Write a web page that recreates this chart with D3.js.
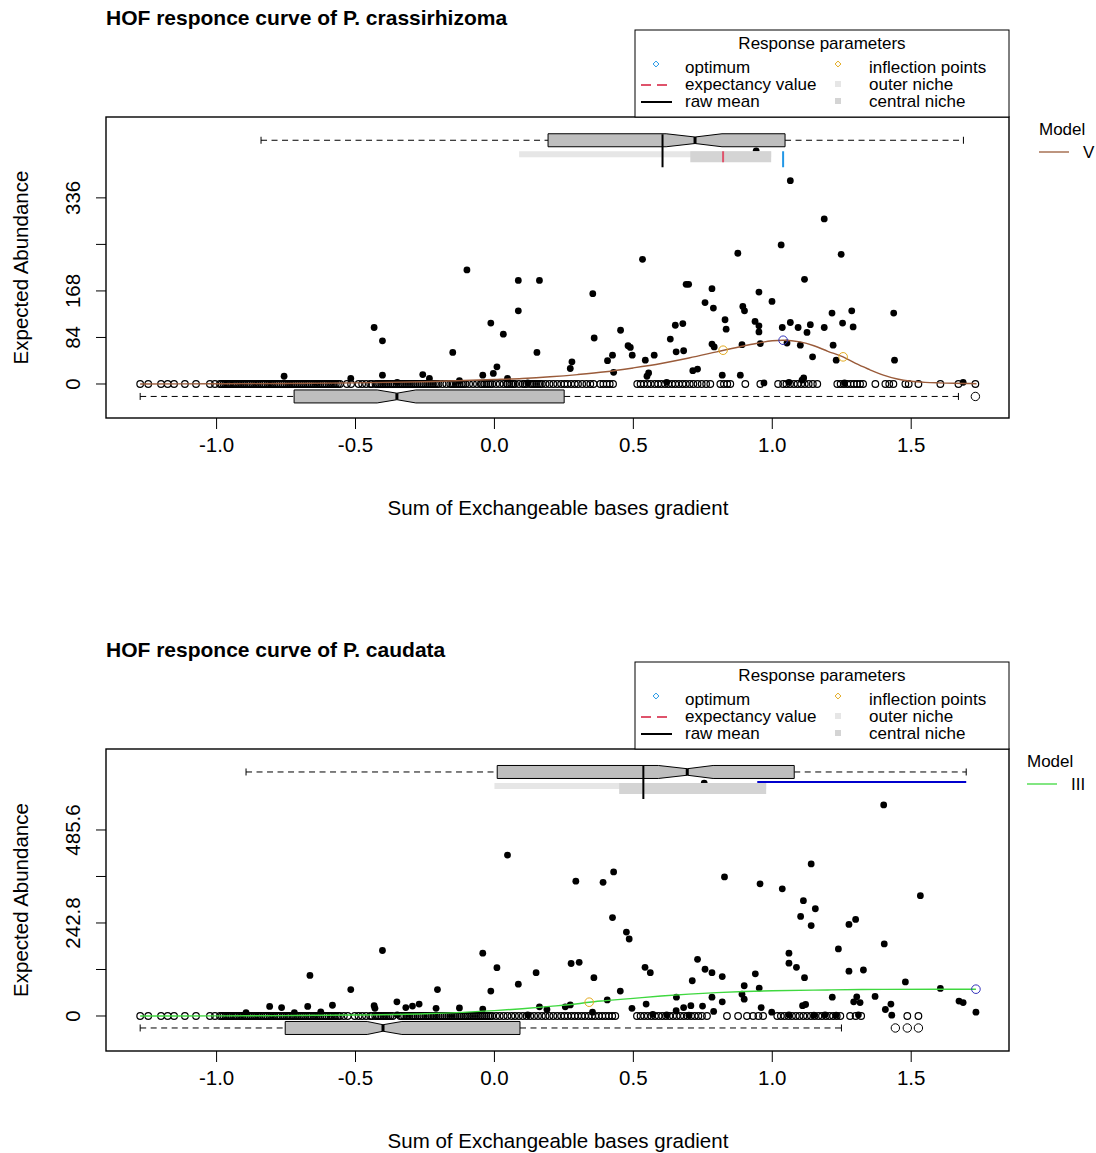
<!DOCTYPE html>
<html>
<head>
<meta charset="utf-8">
<script src="https://cdn.jsdelivr.net/npm/d3@7"></script>
<style>
  body { margin: 0; background: #fff; }
  text { font-family: "Liberation Sans", Arial, sans-serif; fill: #000; }
</style>
</head>
<body>
<svg id="chart" width="1096" height="1153"></svg>
<script>
// ---- shared axis ----
const xTicks = [-1.0, -0.5, 0.0, 0.5, 1.0, 1.5];
const xTickLabels = ['-1.0', '-0.5', '0.0', '0.5', '1.0', '1.5'];
const xTitle = 'Sum of Exchangeable bases gradient';
const yTitle = 'Expected Abundance';

// ---- P. crassirhizoma (model V) ----
const topTitle = 'HOF responce curve of P. crassirhizoma';
const topModel = 'V';
const topYTicks = [0, 84, 168, 252, 336];
const topYTickLabels = ['0', '84', '168', '', '336'];
const topPresence = [
  [-0.099,206],[0.086,187],[0.162,187],[0.086,132],[-0.433,102],[-0.403,78],[-0.013,110],[0.032,90],[-0.150,57],[0.153,57],
  [0.279,40],[0.273,28],[0.009,31],[-0.004,19],[-0.042,16],[-0.757,14],[-0.403,16],[-0.258,17],[-0.234,10],[-0.517,10],
  [-0.126,6],[0.047,10],[0.533,225],[0.876,236],[1.248,234],[0.354,163],[0.359,83],[0.690,180],[0.699,180],[0.783,172],
  [0.758,147],[0.788,137],[1.116,189],[0.952,166],[0.999,149],[0.894,140],[0.900,132],[0.830,116],[0.834,99],[0.651,106],
  [0.678,109],[0.633,81],[0.454,97],[0.425,52],[0.407,42],[0.481,69],[0.489,66],[0.496,52],[0.543,43],[0.575,52],
  [0.429,21],[0.654,58],[0.681,60],[0.714,24],[0.731,27],[0.783,72],[0.791,67],[0.891,71],[0.957,73],[0.938,113],
  [0.952,105],[0.952,94],[1.036,102],[1.065,111],[1.093,102],[1.137,107],[1.125,93],[1.187,102],[1.215,128],[1.286,132],
  [1.253,110],[1.291,103],[1.437,128],[1.440,43],[1.219,70],[1.230,43],[1.145,49],[1.053,74],[1.101,70],[0.820,16],
  [0.885,16],[0.555,20],[0.549,14],[1.113,11],[1.107,7],[1.687,3],[0.942,421],[1.065,367],[1.187,298],[1.032,251],
  [-0.35,3],[0.12,2],[0.62,3],[0.97,2],[1.06,3],[1.26,2]
];
const topAbsence = [
  -1.275,-1.246,-1.200,-1.176,-1.153,-1.114,-1.074,-1.024,-1.006,-0.988,-0.982,-0.975,-0.969,-0.962,-0.957,-0.951,
  -0.944,-0.938,-0.932,-0.926,-0.919,-0.912,-0.905,-0.899,-0.892,-0.884,-0.878,-0.871,-0.865,-0.858,-0.852,-0.846,
  -0.838,-0.831,-0.824,-0.817,-0.811,-0.804,-0.798,-0.792,-0.785,-0.778,-0.770,-0.763,-0.756,-0.749,-0.742,-0.736,
  -0.729,-0.722,-0.715,-0.708,-0.701,-0.694,-0.688,-0.681,-0.674,-0.667,-0.659,-0.652,-0.645,-0.639,-0.632,-0.626,
  -0.618,-0.611,-0.604,-0.597,-0.591,-0.585,-0.578,-0.571,-0.563,-0.556,-0.531,-0.516,-0.489,-0.476,-0.462,-0.447,
  -0.441,-0.428,-0.421,-0.414,-0.408,-0.401,-0.394,-0.387,-0.381,-0.373,-0.366,-0.359,-0.352,-0.345,-0.339,-0.332,
  -0.325,-0.318,-0.311,-0.304,-0.297,-0.290,-0.284,-0.277,-0.269,-0.262,-0.256,-0.249,-0.242,-0.235,-0.228,-0.221,
  -0.214,-0.207,-0.201,-0.187,-0.173,-0.159,-0.152,-0.146,-0.139,-0.132,-0.125,-0.118,-0.111,-0.104,-0.091,-0.077,
  -0.063,-0.049,-0.045,-0.036,-0.029,-0.022,-0.015,-0.008,0.006,0.019,0.033,0.045,0.047,0.054,0.061,0.068,0.074,
  0.088,0.102,0.109,0.116,0.129,0.136,0.143,0.150,0.157,0.164,0.171,0.184,0.198,0.212,0.226,0.240,0.252,0.263,
  0.276,0.289,0.301,0.316,0.331,0.345,0.357,0.381,0.392,0.404,0.415,0.427,0.514,0.526,0.538,0.551,0.563,0.577,0.589,
  0.601,0.614,0.626,0.639,0.651,0.664,0.677,0.689,0.703,0.716,0.731,0.746,0.762,0.777,0.813,0.826,0.838,0.849,0.903,
  0.957,1.021,1.039,1.051,1.064,1.078,1.091,1.104,1.117,1.131,1.146,1.162,1.234,1.246,1.258,1.270,1.282,1.294,1.305,
  1.316,1.327,1.371,1.407,1.421,1.436,1.479,1.491,1.526,1.605,1.670,1.731
];
const topCurve = [
  [-1.275,0],[-1.0,0.5],[-0.75,1],[-0.5,2],[-0.25,4],[0.0,8],[0.1,10],[0.2,13],[0.3,17],[0.4,22],[0.5,29],
  [0.6,37],[0.7,47],[0.8,58],[0.9,69],[0.95,74],[1.0,78],[1.04,79],[1.1,76],[1.15,69],[1.2,59],[1.255,49],
  [1.3,37],[1.35,26],[1.4,16],[1.45,9],[1.5,5],[1.55,3],[1.6,2],[1.7,1],[1.735,0.5]
];
// whisker low, Q1, notch low, median, notch high, Q3, whisker high
const topPresBox = [-0.840, 0.193, 0.618, 0.722, 0.819, 1.046, 1.688];
const topAbsBox = [-1.275, -0.721, -0.422, -0.351, -0.283, 0.251, 1.670];
const topAbsOutliers = [1.731];
const topOuterNiche = [0.089, 0.996];
const topCentralNiche = [0.705, 0.996];
const topRawMean = 0.605;
const topExpectancy = 0.823;
const topOptimum = [1.039, 79];
const topInflections = [[0.823, 61], [1.255, 49]];

// ---- P. caudata (model III) ----
const botTitle = 'HOF responce curve of P. caudata';
const botModel = 'III';
const botYTicks = [0, 121.4, 242.8, 364.2, 485.6];
const botYTickLabels = ['0', '', '242.8', '', '485.6'];
const botPresence = [
  [0.047,420],[0.293,352],[-0.403,171],[-0.664,106],[-0.517,69],[-0.042,164],[0.009,126],[-0.013,65],[0.086,83],[0.150,113],
  [0.276,137],[0.305,140],[-0.205,69],[-0.351,37],[-0.319,22],[-0.295,26],[-0.271,31],[-0.433,27],[-0.430,20],[-0.583,28],
  [-0.672,25],[-0.766,22],[-0.809,25],[-0.625,11],[-0.720,9],[-0.894,9],[-0.126,21],[-0.210,20],[-0.042,18],[0.162,24],
  [0.189,17],[0.255,24],[0.273,29],[1.140,397],[1.533,314],[0.828,363],[0.956,345],[1.036,332],[1.112,301],[1.155,280],
  [1.102,260],[1.140,236],[1.276,239],[1.300,252],[1.238,175],[1.403,188],[0.391,349],[0.429,376],[0.425,257],[0.475,219],
  [0.485,201],[0.358,100],[0.453,65],[0.542,127],[0.561,113],[0.655,49],[0.731,148],[0.758,122],[0.783,113],[0.712,92],
  [0.820,103],[0.783,49],[0.820,37],[0.939,110],[0.899,79],[0.891,57],[0.899,44],[0.953,73],[1.060,164],[1.060,138],
  [1.087,127],[1.116,100],[1.276,117],[1.328,120],[1.216,49],[1.304,50],[1.293,37],[1.316,35],[1.370,51],[1.479,89],
  [1.605,72],[1.672,39],[1.687,35],[1.733,10],[1.427,31],[1.407,17],[0.546,31],[0.495,20],[0.654,14],[0.681,22],
  [0.707,27],[0.749,26],[0.789,12],[0.960,22],[0.998,10],[1.109,27],[1.120,30],[0.406,42],[0.353,10],[0.755,608],
  [1.401,551],[1.06,3],[1.15,2],[1.19,3],[1.23,2],[1.31,3],[1.43,2],[0.62,3],[0.70,2],[0.57,4],[-0.35,3],[0.12,3]
];
const botAbsence = [
  -1.275,-1.246,-1.200,-1.176,-1.153,-1.114,-1.074,-1.024,-1.006,-0.988,-0.981,-0.975,-0.968,-0.962,-0.956,-0.951,
  -0.945,-0.938,-0.931,-0.926,-0.918,-0.912,-0.906,-0.899,-0.891,-0.884,-0.877,-0.871,-0.864,-0.858,-0.851,-0.846,
  -0.839,-0.831,-0.823,-0.817,-0.810,-0.804,-0.797,-0.792,-0.784,-0.778,-0.771,-0.763,-0.757,-0.749,-0.743,-0.736,
  -0.728,-0.722,-0.714,-0.708,-0.700,-0.694,-0.687,-0.681,-0.673,-0.667,-0.660,-0.652,-0.646,-0.639,-0.633,-0.626,
  -0.619,-0.611,-0.605,-0.597,-0.590,-0.585,-0.577,-0.571,-0.563,-0.556,-0.542,-0.528,-0.503,-0.489,-0.476,-0.462,
  -0.447,-0.440,-0.429,-0.421,-0.415,-0.408,-0.400,-0.394,-0.388,-0.381,-0.374,-0.366,-0.339,-0.333,-0.325,-0.317,
  -0.311,-0.305,-0.297,-0.291,-0.284,-0.276,-0.269,-0.263,-0.256,-0.248,-0.242,-0.236,-0.228,-0.220,-0.214,-0.208,
  -0.201,-0.194,-0.187,-0.180,-0.173,-0.166,-0.159,-0.153,-0.146,-0.139,-0.132,-0.124,-0.118,-0.110,-0.104,-0.097,
  -0.091,-0.084,-0.077,-0.070,-0.063,-0.056,-0.049,-0.043,-0.036,-0.029,-0.022,-0.015,-0.008,0.006,0.019,0.033,
  0.047,0.061,0.074,0.088,0.102,0.116,0.129,0.143,0.157,0.171,0.184,0.198,0.212,0.226,0.240,0.252,0.264,
  0.277,0.289,0.301,0.314,0.326,0.339,0.351,0.363,0.376,0.388,0.400,0.412,0.424,0.435,0.513,0.526,0.539,0.552,0.565,
  0.578,0.591,0.604,0.617,0.630,0.643,0.656,0.669,0.682,0.695,0.708,0.721,0.734,0.747,0.765,0.837,0.877,0.909,0.931,
  0.950,0.967,1.018,1.031,1.044,1.058,1.071,1.085,1.098,1.112,1.125,1.139,1.152,1.166,1.179,1.193,1.206,1.219,1.232,
  1.245,1.280,1.300,1.320,1.486,1.526
];
const botCurve = [
  [-1.275,0],[-1.0,0.3],[-0.75,1],[-0.5,2.5],[-0.25,6],[0.0,14],[0.1,19],[0.2,25],[0.3,32],[0.341,36],[0.4,40],
  [0.5,46],[0.6,52],[0.7,57],[0.8,61],[0.9,64],[1.0,66],[1.2,68],[1.4,69.5],[1.6,70],[1.733,70]
];
const botPresBox = [-0.894, 0.010, 0.590, 0.694, 0.787, 1.079, 1.698];
const botAbsBox = [-1.275, -0.753, -0.458, -0.401, -0.333, 0.092, 1.249];
const botAbsOutliers = [1.443, 1.486, 1.526];
const botOuterNiche = [0.000, 0.978];
const botCentralNiche = [0.449, 0.978];
const botRawMean = 0.536;
const botOptimumRange = [0.946, 1.698];
const botOptimum = [1.733, 70];
const botInflections = [[0.341, 36]];

// ---- legend entries ----
const legendLeft = ['optimum', 'expectancy value', 'raw mean'];
const legendRight = ['inflection points', 'outer niche', 'central niche'];

// ---- styles ----
const col = {
  box: '#BEBEBE', outer: '#E6E6E6', central: '#D4D4D4',
  expect: '#DF536B', optTick: '#2297E6', optLine: '#0000CD',
  optPoint: '#3333BB', infl: '#E3AA1E', curveV: '#9A5B3A', curveIII: '#3FD83F'
};
const fs = 20.5;   // axis text
const lfs = 17;    // legend text

const svg = d3.select('#chart');
const xScale = d3.scaleLinear().domain([-1.398, 1.852]).range([106, 1009]);

function drawBox(g, s, cy, half, outliers) {
  const [wlo, q1, nlo, med, nhi, q3, whi] = s.map(xScale);
  // whiskers
  g.append('line').attr('x1', wlo).attr('x2', q1).attr('y1', cy).attr('y2', cy)
    .attr('stroke', '#000').attr('stroke-dasharray', '6,4.5');
  g.append('line').attr('x1', q3).attr('x2', whi).attr('y1', cy).attr('y2', cy)
    .attr('stroke', '#000').attr('stroke-dasharray', '6,4.5');
  [wlo, whi].forEach(v => g.append('line')
    .attr('x1', v).attr('x2', v).attr('y1', cy - 3.5).attr('y2', cy + 3.5).attr('stroke', '#000'));
  // notched box
  const pts = [[q1, cy - half], [nlo, cy - half], [med, cy - half / 2], [nhi, cy - half], [q3, cy - half],
    [q3, cy + half], [nhi, cy + half], [med, cy + half / 2], [nlo, cy + half], [q1, cy + half]];
  g.append('polygon').attr('points', pts.map(p => p.join(',')).join(' '))
    .attr('fill', col.box).attr('stroke', '#000').attr('stroke-width', 1);
  g.append('line').attr('x1', med).attr('x2', med).attr('y1', cy - half / 2).attr('y2', cy + half / 2)
    .attr('stroke', '#000').attr('stroke-width', 3);
  g.selectAll(null).data(outliers).enter().append('circle')
    .attr('cx', d => xScale(d)).attr('cy', cy).attr('r', 4.2)
    .attr('fill', 'none').attr('stroke', '#000');
}

function drawLegend(g, top, model, modelColor, modelX) {
  const left = 635, right = 1009;
  g.append('rect').attr('x', left).attr('y', top).attr('width', right - left).attr('height', 87)
    .attr('fill', '#fff').attr('stroke', '#000');
  g.append('text').attr('x', (left + right) / 2).attr('y', top + 19).attr('text-anchor', 'middle')
    .attr('font-size', lfs).text('Response parameters');
  const rowY = i => top + 38 + i * 17;
  legendLeft.forEach((t, i) => g.append('text').attr('x', 685).attr('y', rowY(i) + 5)
    .attr('font-size', lfs).text(t));
  legendRight.forEach((t, i) => g.append('text').attr('x', 869).attr('y', rowY(i) + 5)
    .attr('font-size', lfs).text(t));
  const diamond = d3.symbol().type(d3.symbolDiamond2).size(22);
  g.append('path').attr('d', diamond).attr('transform', `translate(656,${rowY(0) - 4})`)
    .attr('fill', 'none').attr('stroke', col.optTick);
  g.append('path').attr('d', diamond).attr('transform', `translate(838,${rowY(0) - 4})`)
    .attr('fill', 'none').attr('stroke', col.infl);
  g.append('line').attr('x1', 641).attr('x2', 672).attr('y1', rowY(1)).attr('y2', rowY(1))
    .attr('stroke', col.expect).attr('stroke-width', 2).attr('stroke-dasharray', '10,6');
  g.append('line').attr('x1', 641).attr('x2', 672).attr('y1', rowY(2)).attr('y2', rowY(2))
    .attr('stroke', '#000').attr('stroke-width', 2);
  g.append('rect').attr('x', 835).attr('y', rowY(1) - 4).attr('width', 6).attr('height', 6).attr('fill', col.outer);
  g.append('rect').attr('x', 835).attr('y', rowY(2) - 4).attr('width', 6).attr('height', 6).attr('fill', col.central);

  // model legend
  g.append('text').attr('x', modelX).attr('y', top + 105).attr('font-size', lfs).text('Model');
  g.append('line').attr('x1', modelX).attr('x2', modelX + 30).attr('y1', top + 122).attr('y2', top + 122)
    .attr('stroke', modelColor).attr('stroke-width', 1.3);
  g.append('text').attr('x', modelX + 44).attr('y', top + 128).attr('font-size', lfs).text(model);
}

function drawPanel(p) {
  const g = svg.append('g');
  const y = d3.scaleLinear().domain(p.yDomain).range([p.bottom, p.top]);

  // title
  g.append('text').attr('x', 106).attr('y', p.top - 92).attr('font-size', 21)
    .attr('font-weight', 'bold').text(p.title);

  // y axis (ticks + rotated labels)
  g.selectAll(null).data(p.yTicks).enter().append('line')
    .attr('x1', 96).attr('x2', 106).attr('y1', d => y(d)).attr('y2', d => y(d)).attr('stroke', '#000');
  g.selectAll(null).data(p.yTicks).enter().append('text')
    .attr('transform', d => `translate(80,${y(d)}) rotate(-90)`)
    .attr('text-anchor', 'middle').attr('font-size', fs)
    .text((d, i) => p.yTickLabels[i]);
  g.append('text').attr('transform', `translate(28,${(p.top + p.bottom) / 2}) rotate(-90)`)
    .attr('text-anchor', 'middle').attr('font-size', fs).text(yTitle);

  // x axis
  g.selectAll(null).data(xTicks).enter().append('line')
    .attr('x1', d => xScale(d)).attr('x2', d => xScale(d))
    .attr('y1', p.bottom).attr('y2', p.bottom + 11).attr('stroke', '#000');
  g.selectAll(null).data(xTicks).enter().append('text')
    .attr('x', d => xScale(d)).attr('y', p.bottom + 34).attr('text-anchor', 'middle')
    .attr('font-size', fs).text((d, i) => xTickLabels[i]);
  g.append('text').attr('x', 558).attr('y', p.bottom + 97).attr('text-anchor', 'middle')
    .attr('font-size', fs).text(xTitle);

  // absences and presences
  g.selectAll(null).data(p.absence).enter().append('circle')
    .attr('cx', d => xScale(d)).attr('cy', y(0)).attr('r', 3.3)
    .attr('fill', 'none').attr('stroke', '#000').attr('stroke-width', 1.2);
  g.selectAll(null).data(p.presence).enter().append('circle')
    .attr('cx', d => xScale(d[0])).attr('cy', d => y(d[1])).attr('r', 3.4)
    .attr('fill', '#000');

  // boxplots
  const presCy = y(p.presBoxY);
  drawBox(g, p.absBox, y(p.absBoxY), 6.5, p.absOutliers);
  // niches
  g.append('rect').attr('x', xScale(p.outer[0])).attr('width', xScale(p.outer[1]) - xScale(p.outer[0]))
    .attr('y', presCy + 11).attr('height', 6).attr('fill', col.outer);
  g.append('rect').attr('x', xScale(p.central[0])).attr('width', xScale(p.central[1]) - xScale(p.central[0]))
    .attr('y', presCy + 11).attr('height', 11).attr('fill', col.central);
  drawBox(g, p.presBox, presCy, 6.5, []);
  g.append('line').attr('x1', xScale(p.rawMean)).attr('x2', xScale(p.rawMean))
    .attr('y1', presCy - 6).attr('y2', presCy + 27).attr('stroke', '#000').attr('stroke-width', 2);
  if (p.expectancy !== undefined) {
    g.append('line').attr('x1', xScale(p.expectancy)).attr('x2', xScale(p.expectancy))
      .attr('y1', presCy + 11).attr('y2', presCy + 22).attr('stroke', col.expect).attr('stroke-width', 2);
  }
  if (p.optRange) {
    g.append('line').attr('x1', xScale(p.optRange[0])).attr('x2', xScale(p.optRange[1]))
      .attr('y1', presCy + 10).attr('y2', presCy + 10).attr('stroke', col.optLine).attr('stroke-width', 2);
  } else {
    g.append('line').attr('x1', xScale(p.optimum[0])).attr('x2', xScale(p.optimum[0]))
      .attr('y1', presCy + 11).attr('y2', presCy + 27).attr('stroke', col.optTick).attr('stroke-width', 2);
  }

  // response curve
  const line = d3.line().x(d => xScale(d[0])).y(d => y(d[1])).curve(d3.curveMonotoneX);
  g.append('path').datum(p.curve).attr('d', line).attr('fill', 'none')
    .attr('stroke', p.curveColor).attr('stroke-width', 1.4);
  g.selectAll(null).data(p.inflections).enter().append('circle')
    .attr('cx', d => xScale(d[0])).attr('cy', d => y(d[1])).attr('r', 4.3)
    .attr('fill', 'none').attr('stroke', col.infl);
  g.append('circle').attr('cx', xScale(p.optimum[0])).attr('cy', y(p.optimum[1])).attr('r', 4.3)
    .attr('fill', 'none').attr('stroke', col.optPoint);

  // plot frame
  g.append('rect').attr('x', 106).attr('y', p.top).attr('width', 1009 - 106)
    .attr('height', p.bottom - p.top).attr('fill', 'none').attr('stroke', '#000').attr('stroke-width', 1.4);

  drawLegend(g, p.top - 87, p.model, p.curveColor, p.modelX);
}

drawPanel({
  title: topTitle, model: topModel, curveColor: col.curveV, modelX: 1039,
  top: 117, bottom: 418, yDomain: [-61.4, 482],
  yTicks: topYTicks, yTickLabels: topYTickLabels,
  presence: topPresence, absence: topAbsence, curve: topCurve,
  presBox: topPresBox, absBox: topAbsBox, absOutliers: topAbsOutliers,
  presBoxY: 440, absBoxY: -22.5,
  outer: topOuterNiche, central: topCentralNiche, rawMean: topRawMean,
  expectancy: topExpectancy, optimum: topOptimum, inflections: topInflections
});

drawPanel({
  title: botTitle, model: botModel, curveColor: col.curveIII, modelX: 1027,
  top: 749, bottom: 1051, yDomain: [-91.4, 697],
  yTicks: botYTicks, yTickLabels: botYTickLabels,
  presence: botPresence, absence: botAbsence, curve: botCurve,
  presBox: botPresBox, absBox: botAbsBox, absOutliers: botAbsOutliers,
  presBoxY: 637, absBoxY: -31.3,
  outer: botOuterNiche, central: botCentralNiche, rawMean: botRawMean,
  optRange: botOptimumRange, optimum: botOptimum, inflections: botInflections
});
</script>
</body>
</html>
